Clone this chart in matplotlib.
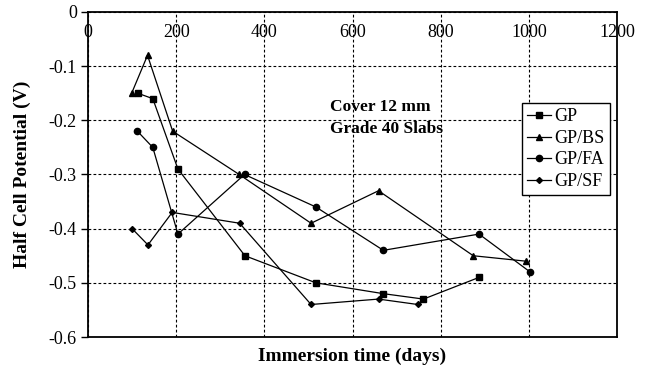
import matplotlib
matplotlib.use("Agg")
import matplotlib.pyplot as plt

# values
gp_x = [113, 147, 204, 356, 517, 670, 761, 887]
gp_y = [-0.15, -0.16, -0.29, -0.45, -0.50, -0.52, -0.53, -0.49]

bs_x = [99, 135, 192, 343, 506, 659, 874, 993]
bs_y = [-0.15, -0.08, -0.22, -0.30, -0.39, -0.33, -0.45, -0.46]

fa_x = [112, 147, 204, 355, 517, 670, 887, 1003]
fa_y = [-0.22, -0.25, -0.41, -0.30, -0.36, -0.44, -0.41, -0.48]

sf_x = [100, 136, 191, 344, 506, 659, 748]
sf_y = [-0.40, -0.43, -0.37, -0.39, -0.54, -0.53, -0.54]

x_ticks = [0, 200, 400, 600, 800, 1000, 1200]
y_ticks = [0, -0.1, -0.2, -0.3, -0.4, -0.5, -0.6]
y_labels = ["0", "-0.1", "-0.2", "-0.3", "-0.4", "-0.5", "-0.6"]

plt.rcParams["font.family"] = ["Liberation Serif", "DejaVu Serif"]

fig = plt.figure(figsize=(6.49, 3.77), dpi=100)
ax = fig.add_axes([0.1356, 0.1061, 0.8151, 0.8621])

ax.plot(gp_x, gp_y, color="black", lw=0.9, marker="s", ms=4.5, label="GP")
ax.plot(bs_x, bs_y, color="black", lw=0.9, marker="^", ms=5, label="GP/BS")
ax.plot(fa_x, fa_y, color="black", lw=0.9, marker="o", ms=4.5, label="GP/FA")
ax.plot(sf_x, sf_y, color="black", lw=0.9, marker="D", ms=3, label="GP/SF")

ax.set_xlim(0, 1200)
ax.set_ylim(-0.6, 0)
ax.set_xticks(x_ticks)
ax.set_yticks(y_ticks)
ax.set_yticklabels(y_labels)

ax.tick_params(axis="x", top=True, labeltop=True, bottom=False, labelbottom=False,
               length=0, pad=-21, labelsize=13)
ax.tick_params(axis="y", direction="out", length=5, width=1, labelsize=13, pad=3)

ax.grid(True, color="black", lw=0.8, linestyle=(0, (2.5, 2)))
ax.set_axisbelow(True)
for s in ax.spines.values():
    s.set_linewidth(1.3)

ax.set_xlabel("Immersion time (days)", fontsize=14, fontweight="bold", labelpad=8)
ax.set_ylabel("Half Cell Potential (V)", fontsize=14, fontweight="bold", labelpad=13)

ax.text(549, -0.175, "Cover 12 mm", fontsize=12.5, fontweight="bold", va="center")
ax.text(549, -0.216, "Grade 40 Slabs", fontsize=12.5, fontweight="bold", va="center")

leg = ax.legend(loc="upper left", bbox_to_anchor=(0.82, 0.72), borderaxespad=0,
                fontsize=13, handlelength=1.3, handletextpad=0.2, labelspacing=0.25,
                borderpad=0.3, fancybox=False, framealpha=1, edgecolor="black")
leg.get_frame().set_linewidth(1.0)

fig.savefig("out.png", dpi=100)
